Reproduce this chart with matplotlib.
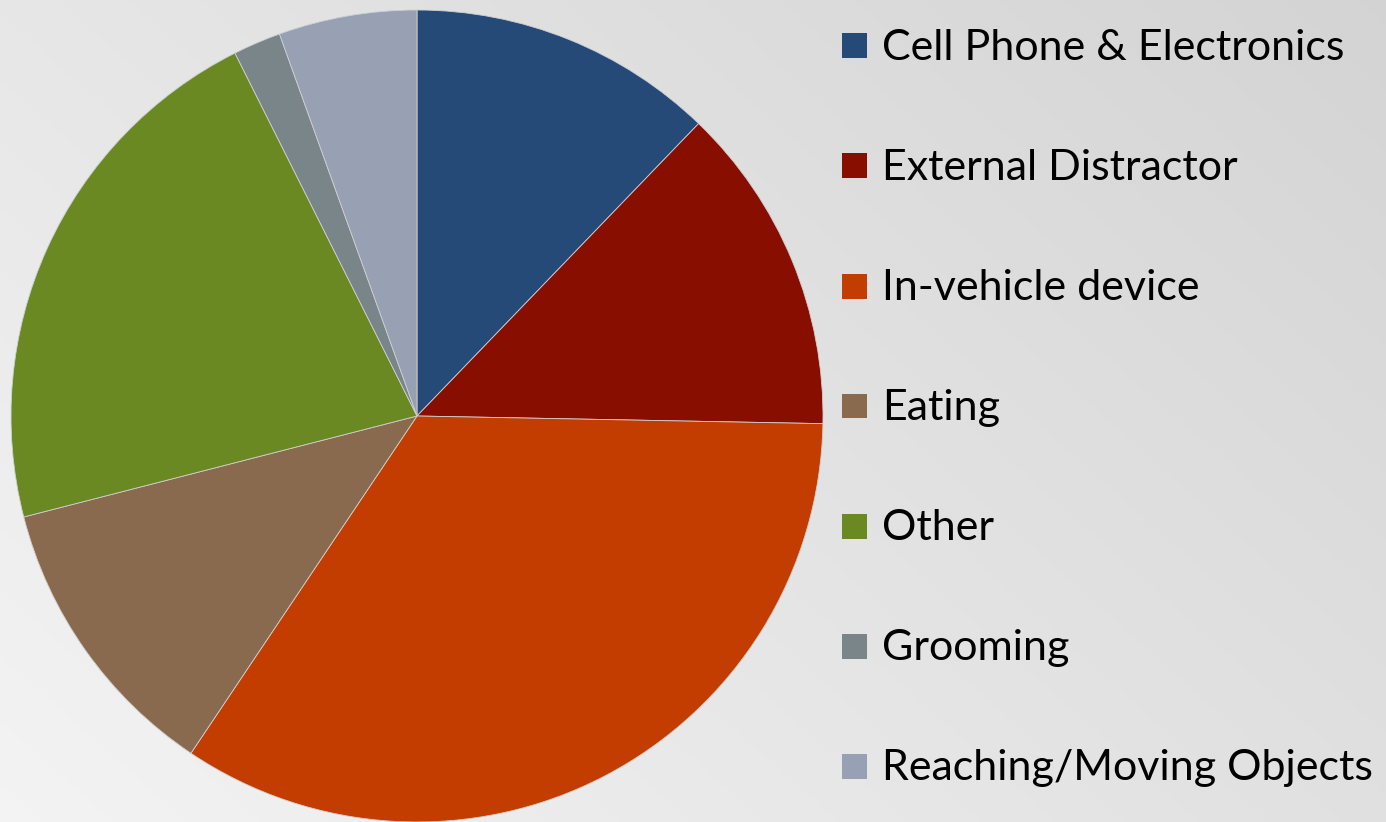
import numpy as np
import matplotlib.pyplot as plt
from matplotlib.patches import Rectangle

labels = ['Cell Phone & Electronics', 'External Distractor', 'In-vehicle device',
          'Eating', 'Other', 'Grooming', 'Reaching/Moving Objects']
shares = [12.2, 13.1, 34.1, 11.6, 21.6, 1.9, 5.5]
colors = ['#264A78', '#880E00', '#C43D00', '#896A4F', '#6A8923', '#7A858A', '#98A0B3']

W, H = 1386, 822
fig = plt.figure(figsize=(W / 100, H / 100), dpi=100)

# background gradient (light bottom-left, darker top-right)
bg = fig.add_axes([0, 0, 1, 1])
xx, yy = np.meshgrid(np.linspace(0, 1, 300), np.linspace(0, 1, 200))
t = 0.6 * xx + 0.4 * (1 - yy)   # yy = 0 at top (origin upper)
gray = 0.955 - 0.125 * t
bg.imshow(np.dstack([gray, gray, gray]), aspect='auto', extent=[0, 1, 0, 1], origin='upper')
bg.axis('off')

# pie
cx, cy, r = 417, 416, 406
ax = fig.add_axes([(cx - r) / W, (H - cy - r) / H, 2 * r / W, 2 * r / H])
ax.pie(shares, colors=colors, startangle=90, counterclock=False, radius=1,
       wedgeprops=dict(linewidth=0.6, edgecolor='#cfcfcf'))
ax.set_xlim(-1, 1)
ax.set_ylim(-1, 1)
ax.set_aspect('equal')
ax.axis('off')

# legend
for i, (lab, c) in enumerate(zip(labels, colors)):
    yc = 46 + 120 * i
    fig.patches.append(Rectangle((842 / W, (H - yc - 12.5) / H), 25 / W, 25 / H,
                                 transform=fig.transFigure, facecolor=c, edgecolor='none'))
    fig.text(882 / W, (H - yc - 2) / H, lab, fontsize=31, family='Lato',
             va='center', ha='left', color='black')

fig.savefig('out.png', dpi=100)
